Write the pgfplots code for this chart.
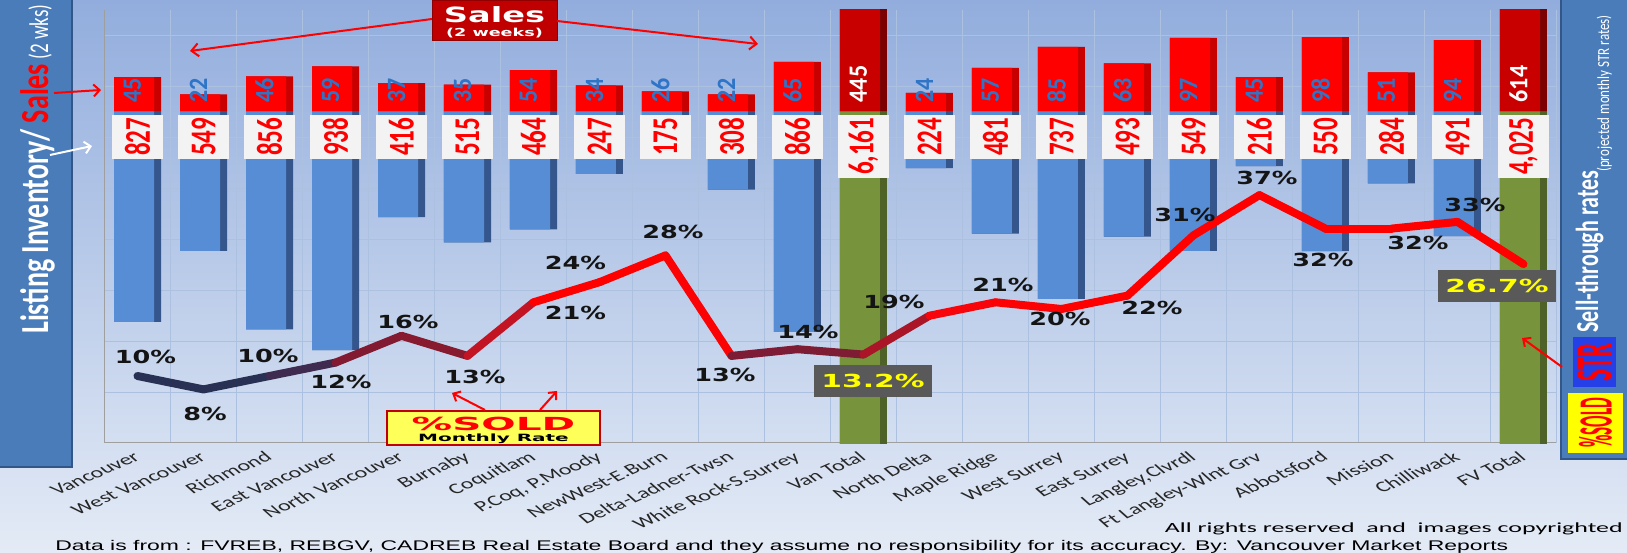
\documentclass[border=0pt]{standalone}
\usepackage{pgfplots}
\pgfplotsset{compat=1.18}
\usepackage{pgfplotstable}
\usetikzlibrary{arrows.meta}
\usepackage{fontspec}
\setmainfont{Carlito}
\newfontfamily\dvs{DejaVu Sans}
\newfontfamily\lib{Liberation Sans}
\newcommand\fs[1]{\fontsize{#1}{#1}\selectfont}

\definecolor{bgtop}{RGB}{146,173,221}
\definecolor{bgbot}{RGB}{228,235,246}
\definecolor{gridc}{RGB}{172,192,224}
\definecolor{side}{RGB}{74,124,186}
\definecolor{sideb}{RGB}{50,86,136}
\definecolor{bl1}{RGB}{86,141,213}
\definecolor{bl2}{RGB}{52,86,140}
\definecolor{rd1}{RGB}{255,0,0}
\definecolor{rd2}{RGB}{200,0,0}
\definecolor{dr1}{RGB}{200,0,0}
\definecolor{dr2}{RGB}{125,0,0}
\definecolor{ol1}{RGB}{119,147,60}
\definecolor{ol2}{RGB}{78,97,38}
\definecolor{lbl}{RGB}{243,243,243}
\definecolor{salesblue}{RGB}{46,117,200}
\definecolor{boxgray}{RGB}{89,89,89}
\definecolor{yel}{RGB}{255,255,0}
\definecolor{yelbox}{RGB}{255,255,90}
\definecolor{darkred}{RGB}{192,0,0}
\definecolor{strblue}{RGB}{36,64,230}

\pgfplotstableread{
x inv sales
0 827 45
1 549 22
2 856 46
3 938 59
4 416 37
5 515 35
6 464 54
7 247 34
8 175 26
9 308 22
10 866 65
12 224 24
13 481 57
14 737 85
15 493 63
16 549 97
17 216 45
18 550 98
19 284 51
20 491 94
}\dist
\pgfplotstableread{
x inv sales
11 6161 445
21 4025 614
}\tot
\pgfplotstableread{
x sold dx dy
0 10 8 19
1 8 1.5 -25
2 10 -1.5 20
3 12 5.5 -19
4 16 6.5 14
5 13 7.5 -21
6 21 42 -11
7 24 -24 19
8 28 7.5 23
9 13 -6.5 -19
10 14 10.5 17
11 13.2 9.5 -26.5
12 19 -35.5 14
13 21 7.5 17
14 20 -1.5 -10
15 22 24.5 -12.5
16 31 -8.5 20
17 37 7.5 17
18 32 -2.5 -31.5
19 32 26.5 -14.5
20 33 17.5 17
21 26.7 -26.5 -21.5
}\soldt

\pgfplotsset{
  base/.style={scale only axis, width=1452pt, height=433pt,
    at={(104.5pt,110pt)}, anchor=south west, xmin=-0.5, xmax=21.5},
  darkbar/.style={ybar, bar width=47pt, bar shift=0pt, draw=none, fill=#1},
  lightbar/.style={ybar, bar width=40pt, bar shift=-3.5pt, draw=none, fill=#1},
  colormap={sold}{rgb255(16pt)=(38,48,82) rgb255(20pt)=(42,48,85) rgb255(23pt)=(72,40,76) rgb255(27pt)=(125,28,52) rgb255(30pt)=(140,25,45) rgb255(34pt)=(195,20,35) rgb255(38pt)=(240,10,20) rgb255(42pt)=(255,0,0) rgb255(74pt)=(255,0,0)},
}

\begin{document}
\begin{tikzpicture}
\useasboundingbox (0,0) rectangle (1627pt,553pt);
\shade[top color=bgtop, bottom color=bgbot] (0,0) rectangle (1627pt,553pt);

% grid + category axis
\begin{axis}[base, ymin=0, ymax=433,
  axis x line*=bottom, axis y line*=left,
  axis line style={draw=gray!75, line width=1pt},
  xtick={0,...,21},
  xticklabels={Vancouver, West Vancouver, Richmond, East Vancouver, North Vancouver, Burnaby, Coquitlam, {P.Coq, P.Moody}, NewWest-E.Burn, Delta-Ladner-Twsn, White Rock-S.Surrey, Van Total, North Delta, Maple Ridge, West Surrey, East Surrey, {Langley,Clvrdl}, Ft Langley-Wlnt Grv, Abbotsford, Mission, Chilliwack, FV Total},
  xticklabel style={font=\fs{15}, text=black!85, anchor=base east, xshift=4pt, yshift=-16pt, xscale=1.6, rotate=35, inner sep=0pt},
  minor xtick={-0.5,0.5,...,21.5}, xminorgrids=true,
  ytick={51,102,153,204,255,306,357,408}, yticklabels={}, ymajorgrids=true,
  major grid style={draw=gridc, line width=0.8pt},
  minor grid style={draw=gridc, line width=0.8pt},
  major tick length=0pt, minor tick length=0pt]
\end{axis}

% inventory (downward)
\begin{axis}[base, hide axis, y dir=reverse, ymin=-396, ymax=1302]
\addplot[darkbar=bl2] table[x=x, y=inv]{\dist};
\addplot[lightbar=bl1] table[x=x, y=inv]{\dist};
\addplot[darkbar=ol2] table[x=x, y=inv]{\tot};
\addplot[lightbar=ol1] table[x=x, y=inv]{\tot};
\addplot[draw=none, point meta=explicit,
  nodes near coords={\pgfmathprintnumber[fixed,precision=0,1000 sep={,},assume math mode=true]{\pgfplotspointmeta}},
  every node near coord/.append style={font=\bfseries\fs{25}, text=red, fill=lbl, anchor=east,
     inner xsep=3pt, inner ysep=0pt, minimum height=35pt, yshift=-3.5pt, xscale=1.45, rotate=90}]
  table[x=x, y expr=0, meta=inv]{\dist};
\addplot[draw=none, point meta=explicit,
  nodes near coords={\pgfmathprintnumber[fixed,precision=0,1000 sep={,},assume math mode=true]{\pgfplotspointmeta}},
  every node near coord/.append style={font=\bfseries\fs{25}, text=red, fill=lbl, anchor=east,
     inner xsep=3pt, inner ysep=0pt, minimum height=35pt, yshift=-3.5pt, xscale=1.45, rotate=90}]
  table[x=x, y expr=0, meta=inv]{\tot};
\end{axis}

% sales (upward)
\begin{axis}[base, hide axis, ymin=-439.7, ymax=133.8]
\addplot[darkbar=rd2] table[x=x, y=sales]{\dist};
\addplot[lightbar=rd1] table[x=x, y=sales]{\dist};
\addplot[darkbar=dr2] table[x=x, y=sales]{\tot};
\addplot[lightbar=dr1] table[x=x, y=sales]{\tot};
\addplot[draw=none, point meta=explicit,
  nodes near coords={\pgfmathprintnumber[fixed,precision=0,assume math mode=true]{\pgfplotspointmeta}},
  every node near coord/.append style={font=\bfseries\fs{24}, text=salesblue, anchor=west,
     inner sep=0pt, xshift=-5pt, yshift=8.5pt, xscale=1.1, rotate=90}]
  table[x=x, y expr=0, meta=sales]{\dist};
\addplot[draw=none, point meta=explicit,
  nodes near coords={\pgfmathprintnumber[fixed,precision=0,assume math mode=true]{\pgfplotspointmeta}},
  every node near coord/.append style={font=\bfseries\fs{24}, text=white, anchor=west,
     inner sep=0pt, xshift=-5pt, yshift=8.5pt, xscale=1.1, rotate=90}]
  table[x=x, y expr=0, meta=sales]{\tot};
\end{axis}

% %SOLD line
\begin{axis}[base, hide axis, ymin=0, ymax=64.63, clip=false]
\addplot[mesh, shader=flat, point meta=y, colormap name=sold, point meta min=8, point meta max=37,
  line width=8pt, line cap=round, line join=round]
  table[x=x, y=sold]{\soldt};
\addplot[draw=none, point meta=y,
  x filter/.expression={(x==11 || x==21) ? nan : x},
  visualization depends on={\thisrow{dx}\as\dx},
  visualization depends on={\thisrow{dy}\as\dy},
  nodes near coords={\pgfmathprintnumber[fixed,precision=1,assume math mode=true]{\pgfplotspointmeta}\%},
  every node near coord/.append style={anchor=center, inner sep=0pt, xshift=\dx pt, yshift=\dy pt,
     xscale=1.42, font=\dvs\bfseries\fs{18}, text=black!92}]
  table[x=x, y=sold]{\soldt};
\addplot[draw=none, point meta=y,
  x filter/.expression={(x==11 || x==21) ? x : nan},
  visualization depends on={\thisrow{dx}\as\dx},
  visualization depends on={\thisrow{dy}\as\dy},
  nodes near coords={\pgfmathprintnumber[fixed,precision=1,assume math mode=true]{\pgfplotspointmeta}\%},
  every node near coord/.append style={anchor=center, inner sep=0pt, xshift=\dx pt, yshift=\dy pt,
     xscale=1.65, font=\dvs\bfseries\fs{18}, text=yel, fill=boxgray, minimum width=71pt, minimum height=32pt}]
  table[x=x, y=sold]{\soldt};
\end{axis}

% annotations in image coordinates
\begin{scope}[x=1pt, y=-1pt, yshift=553pt]
  % left side panel
  \fill[side] (0,0) rectangle (73,468);
  \draw[sideb, line width=2pt] (72,0) -- (72,467) -- (0,467);
  \node[anchor=base west, inner sep=0pt, xscale=1.42, rotate=90] at (48,334)
    {\bfseries\fs{28}\color{white}Listing Inventory/ \color{red}Sales\color{white}\mdseries\fs{19} (2 wks)};
  \draw[red, line width=2pt, -{Straight Barb[length=6pt,width=12pt]}] (54,93) -- (101,90);
  \draw[white, line width=2pt, -{Straight Barb[length=6pt,width=12pt]}] (50,155) -- (92,146);

  % Sales box
  \draw[fill=darkred, draw=darkred!75!black, line width=1pt] (432,1) rectangle (557,41);
  \node[text=white, xscale=1.6, inner sep=0pt] at (494.5,15) {\dvs\bfseries\fs{21}Sales};
  \node[text=white, xscale=1.6, inner sep=0pt] at (494.5,33.5) {\dvs\bfseries\fs{11}(2 weeks)};
  \draw[red, line width=2pt, -{Straight Barb[length=7pt,width=13pt]}] (432,19) -- (190,51);
  \draw[red, line width=2pt, -{Straight Barb[length=7pt,width=13pt]}] (557,21) -- (758,44);

  % %SOLD monthly rate box
  \draw[fill=yelbox, draw=darkred, line width=1.5pt] (387,411) rectangle (600,445);
  \node[text=red, xscale=2.25, inner sep=0pt] at (493.5,423.5) {\dvs\bfseries\fs{18}\%SOLD};
  \node[text=black, xscale=2.0, inner sep=0pt] at (493.5,438.5) {\dvs\bfseries\fs{10}Monthly Rate};
  \draw[red, line width=2pt, -{Straight Barb[length=6pt,width=11pt]}] (485,410) -- (452,393);
  \draw[red, line width=2pt, -{Straight Barb[length=6pt,width=11pt]}] (540,410) -- (557,391);

  % right side panel
  \fill[side] (1560,0) rectangle (1640,460);
  \draw[sideb, line width=2pt] (1561,0) -- (1561,459) -- (1640,459);
  \node[anchor=base west, inner sep=0pt, xscale=1.45, rotate=90, text=white] at (1598,333)
    {\bfseries\fs{22}Sell-through rates};
  \node[anchor=base west, inner sep=0pt, xscale=1.3, rotate=90, text=white] at (1609,172)
    {\fs{13}(projected monthly STR rates)};
  \fill[strblue] (1573,337) rectangle (1616,387);
  \node[text=red, xscale=2.1, rotate=90, inner sep=0pt] at (1594.5,362) {\bfseries\fs{25}STR};
  \fill[yel] (1568,393) rectangle (1623,453);
  \node[text=red, xscale=2.8, rotate=90, inner sep=0pt] at (1595.5,423) {\bfseries\fs{17}\%SOLD};
  \draw[red, line width=2pt, -{Straight Barb[length=6pt,width=11pt]}] (1562,367) -- (1522,338);

  % bottom text
  \node[anchor=base west, inner sep=0pt, xscale=1.64] at (55,551)
    {\lib\fs{14}Data is from : FVREB, REBGV, CADREB Real Estate Board and they assume no responsibility for its accuracy. By: Vancouver Market Reports};
  \node[anchor=base east, inner sep=0pt, xscale=1.85] at (1623,533)
    {\fs{14}All rights reserved\ \ and\ \ images copyrighted};
\end{scope}
\end{tikzpicture}
\end{document}
